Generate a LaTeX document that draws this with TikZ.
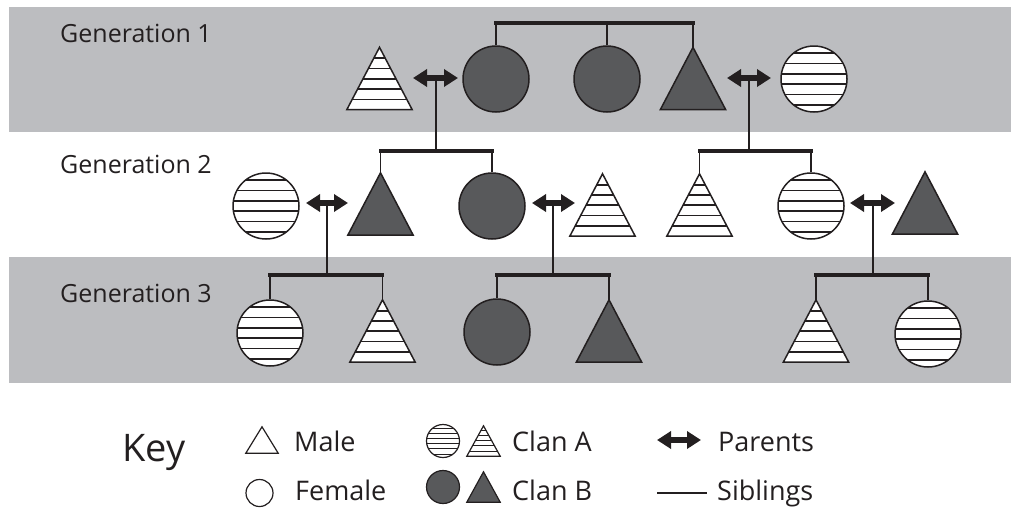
\documentclass[tikz,border=0pt]{standalone}
\usepackage{fontspec}
\setmainfont{Open Sans}
\usetikzlibrary{arrows.meta}

\definecolor{band}{HTML}{BCBDC0}
\definecolor{clanb}{HTML}{58595B}
\definecolor{ink}{HTML}{231F20}

\tikzset{
  outline/.style={draw=ink, line width=1.5pt, line join=miter},
  stripe/.style={draw=ink, line width=1.7pt},
  kstripe/.style={draw=ink, line width=0.9pt},
  % circles (female)
  circbig/.style={circle, outline, minimum size=66pt, inner sep=0pt},
  circdark/.style={circbig, fill=clanb},
  circstripe/.style={circbig, fill=white, path picture={
      \foreach \s in {-2.5,-1.5,-0.5,0.5,1.5,2.5}
        \draw[stripe] ([xshift=-40pt,yshift=\s*10.3pt]path picture bounding box.center)
                   -- ([xshift=40pt,yshift=\s*10.3pt]path picture bounding box.center);}},
  % triangles (male): an invisible box, the triangle is drawn from its anchors
  tribox/.style={rectangle, draw=none, minimum width=65pt, minimum height=62pt, inner sep=0pt},
  ktribox/.style={rectangle, draw=none, minimum width=33pt, minimum height=30pt, inner sep=0pt},
  % key circles
  kcirc/.style={circle, draw=ink, line width=1.2pt, minimum size=33pt, inner sep=0pt},
  kcircdark/.style={kcirc, fill=clanb},
  kcircstripe/.style={kcirc, fill=white, path picture={
      \foreach \s in {-2.5,-1.5,-0.5,0.5,1.5,2.5}
        \draw[kstripe] ([xshift=-20pt,yshift=\s*5.2pt]path picture bounding box.center)
                    -- ([xshift=20pt,yshift=\s*5.2pt]path picture bounding box.center);}},
  % connectors
  kin/.style={draw=ink, line width=1.8pt},
  sibbar/.style={draw=ink, line width=3.2pt, line cap=rect},
  parents/.style={draw=ink, line width=6.5pt,
    {Triangle[length=14pt,width=17pt]}-{Triangle[length=14pt,width=17pt]}},
  % text
  gen/.style={inner sep=0pt, anchor=base west, text=ink, font=\fontsize{25}{30}\selectfont},
  keyhead/.style={inner sep=0pt, anchor=base west, text=ink, font=\fontsize{38}{44}\selectfont},
  keytext/.style={inner sep=0pt, anchor=base west, text=ink, font=\fontsize{27}{32}\selectfont},
}

% dark (clan B) triangle on a box node
\newcommand{\darktri}[2][1.5pt]{%
  \filldraw[outline, line width=#1, fill=clanb] (#2.north) -- (#2.south east) -- (#2.south west) -- cycle;}
% empty triangle on a box node
\newcommand{\opentri}[2][1.5pt]{%
  \draw[outline, line width=#1] (#2.north) -- (#2.south east) -- (#2.south west) -- cycle;}
% striped (clan A) triangle: node, stripe spacing, stripe style, outline width
\newcommand{\stripetri}[4]{%
  \begin{scope}
    \clip (#1.north) -- (#1.south east) -- (#1.south west) -- cycle;
    \fill[white] (#1.south west) rectangle (#1.north east);
    \foreach \k in {1,...,5}
      \draw[#3] ([xshift=-40pt,yshift=\k*#2]#1.south) -- ([xshift=40pt,yshift=\k*#2]#1.south);
  \end{scope}
  \draw[outline, line width=#4] (#1.north) -- (#1.south east) -- (#1.south west) -- cycle;}

\begin{document}
\begin{tikzpicture}[x=1pt, y=-1pt]
  \useasboundingbox (0,0) rectangle (1011,507);

  % generation bands
  \fill[band] (9,7) rectangle (1011,132);
  \fill[band] (9,257) rectangle (1011,383);

  \node[gen] (gen1) at (60,42) {Generation 1};
  \node[gen] (gen2) at (60,173) {Generation 2};
  \node[gen] (gen3) at (60,302) {Generation 3};

  % ---- generation 1
  \node[tribox] (g1a) at (379.5,78.5) {}; \stripetri{g1a}{10.3pt}{stripe}{1.5pt}
  \node[circdark] (g1b) at (496,79) {};
  \node[circdark] (g1c) at (607,79) {};
  \node[tribox] (g1d) at (693,78.5) {}; \darktri{g1d}
  \node[circstripe] (g1e) at (814,79) {};

  % ---- generation 2
  \node[circstripe] (g2a) at (266,206) {};
  \node[tribox] (g2b) at (380.5,204) {}; \darktri{g2b}
  \node[circdark] (g2c) at (492,206) {};
  \node[tribox] (g2d) at (602.5,205) {}; \stripetri{g2d}{10.3pt}{stripe}{1.5pt}
  \node[tribox] (g2e) at (699.5,205) {}; \stripetri{g2e}{10.3pt}{stripe}{1.5pt}
  \node[circstripe] (g2f) at (811,206) {};
  \node[tribox] (g2g) at (925,203) {}; \darktri{g2g}

  % ---- generation 3
  \node[circstripe] (g3a) at (270,333) {};
  \node[tribox] (g3b) at (382.5,331) {}; \stripetri{g3b}{10.3pt}{stripe}{1.5pt}
  \node[circdark] (g3c) at (497,332) {};
  \node[tribox] (g3d) at (609,331) {}; \darktri{g3d}
  \node[tribox] (g3e) at (816,331) {}; \stripetri{g3e}{10.3pt}{stripe}{1.5pt}
  \node[circstripe] (g3f) at (928,334) {};

  % marriage points and sibling bar levels
  \coordinate (m1) at (436,78);
  \coordinate (m2) at (749,78);
  \coordinate (m3) at (327,203);
  \coordinate (m4) at (553,203);
  \coordinate (m5) at (873,203);
  \coordinate (s1) at (594,23);
  \coordinate (s2) at (436,151);
  \coordinate (s3) at (749,151);
  \coordinate (s4) at (327,275);
  \coordinate (s5) at (553,275);
  \coordinate (s6) at (873,275);

  % siblings, generation 1
  \draw[kin] (g1b.north) -- (g1b.north |- s1);
  \draw[kin] (g1c.north) -- (g1c.north |- s1);
  \draw[kin] (g1d.north) -- (g1d.north |- s1);
  \draw[sibbar] (g1b.north |- s1) -- (g1d.north |- s1);

  % parents to children
  \draw[kin] (m1) -- (s2);
  \draw[kin] (g2b.north) -- (g2b.north |- s2);
  \draw[kin] (g2c.north) -- (g2c.north |- s2);
  \draw[sibbar] (g2b.north |- s2) -- (g2c.north |- s2);

  \draw[kin] (m2) -- (s3);
  \draw[kin] (g2e.north) -- (g2e.north |- s3);
  \draw[kin] (g2f.north) -- (g2f.north |- s3);
  \draw[sibbar] (g2e.north |- s3) -- (g2f.north |- s3);

  \draw[kin] (m3) -- (s4);
  \draw[kin] (g3a.north) -- (g3a.north |- s4);
  \draw[kin] (g3b.north) -- (g3b.north |- s4);
  \draw[sibbar] (g3a.north |- s4) -- (g3b.north |- s4);

  \draw[kin] (m4) -- (s5);
  \draw[kin] (g3c.north) -- (g3c.north |- s5);
  \draw[kin] (g3d.north) -- (g3d.north |- s5);
  \draw[sibbar] (g3c.north |- s5) -- (g3d.north |- s5);

  \draw[kin] (m5) -- (s6);
  \draw[kin] (g3e.north) -- (g3e.north |- s6);
  \draw[kin] (g3f.north) -- (g3f.north |- s6);
  \draw[sibbar] (g3e.north |- s6) -- (g3f.north |- s6);

  % parent arrows
  \draw[parents] ([xshift=-23pt]m1) -- ([xshift=22pt]m1);
  \draw[parents] ([xshift=-22pt]m2) -- ([xshift=22pt]m2);
  \draw[parents] ([xshift=-21pt]m3) -- ([xshift=21pt]m3);
  \draw[parents] ([xshift=-21pt]m4) -- ([xshift=22pt]m4);
  \draw[parents] ([xshift=-23pt]m5) -- ([xshift=22pt]m5);

  % ---- key
  \node[keyhead] (key) at (122,461) {Key};

  \node[ktribox, minimum width=32pt, minimum height=26pt] (kmale) at (262,440) {};
  \opentri[1.2pt]{kmale}
  \node[keytext] (tmale) at (294,451) {Male};
  \node[kcirc, minimum size=27pt] (kfemale) at (259.5,493) {};
  \node[keytext] (tfemale) at (295,500) {Female};

  \node[kcircstripe] (kac) at (443,441) {};
  \node[ktribox] (kat) at (483.5,441) {}; \stripetri{kat}{5.2pt}{kstripe}{1.2pt}
  \node[keytext] (tclana) at (512,451) {Clan A};
  \node[kcircdark] (kbc) at (443,487) {};
  \node[ktribox] (kbt) at (483.5,487) {}; \darktri[1.2pt]{kbt}
  \node[keytext] (tclanb) at (512,500) {Clan B};

  \coordinate (kp1) at (657,440);
  \coordinate (kp2) at (701,440);
  \draw[parents] (kp1) -- (kp2);
  \node[keytext] (tparents) at (718,451) {Parents};
  \coordinate (ks1) at (657,493);
  \coordinate (ks2) at (707,493);
  \draw[draw=ink, line width=2.6pt] (ks1) -- (ks2);
  \node[keytext] (tsiblings) at (717,500) {Siblings};
\end{tikzpicture}
\end{document}
